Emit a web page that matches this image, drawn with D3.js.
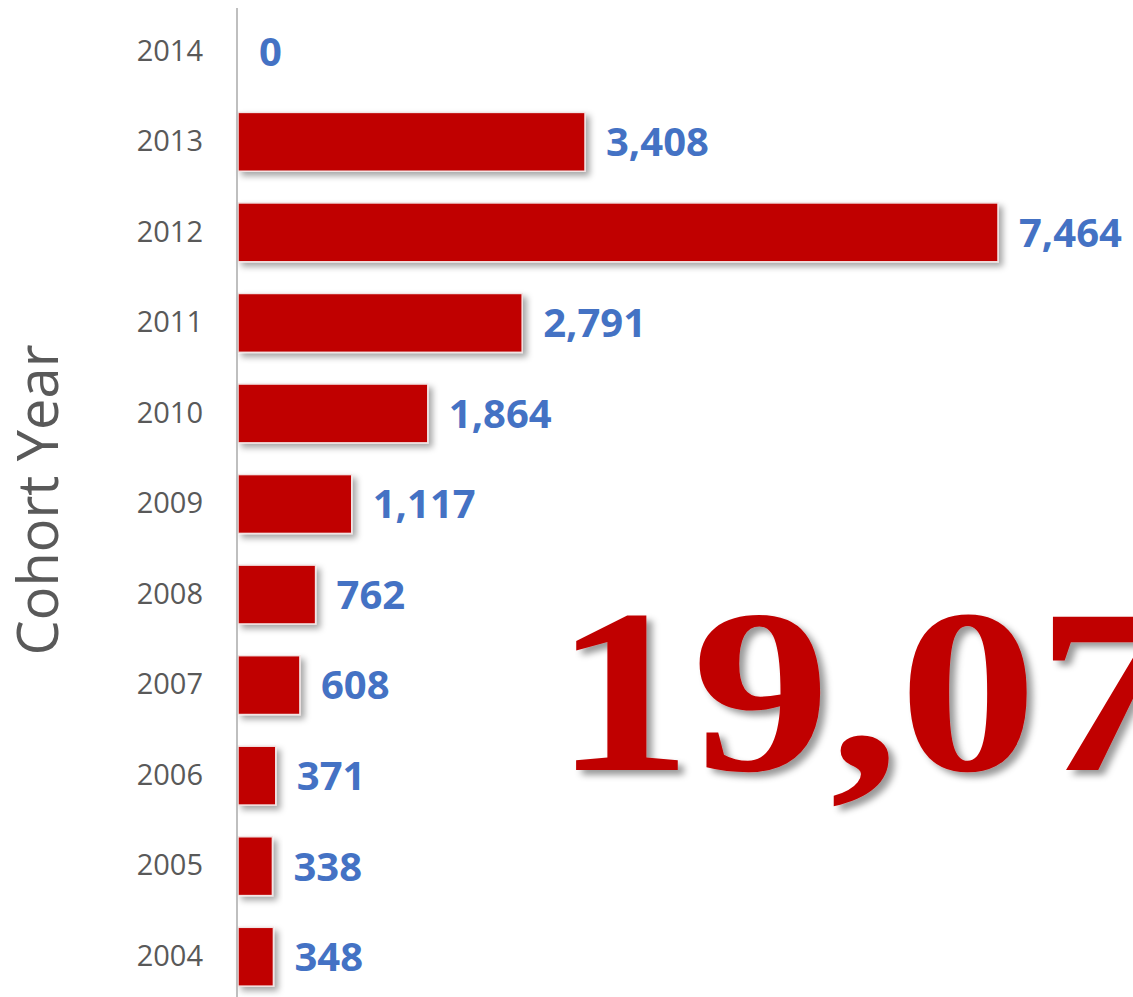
<!DOCTYPE html>
<html>
<head>
<meta charset="utf-8">
<script src="https://cdn.jsdelivr.net/npm/d3@7"></script>
<style>
  body { margin: 0; background: #fff; }
  svg { display: block; }
</style>
</head>
<body>
<div id="chart"></div>
<script>
// data, top to bottom
const years = ['2014', '2013', '2012', '2011', '2010', '2009', '2008', '2007', '2006', '2005', '2004']
const counts = [0, 3408, 7464, 2791, 1864, 1117, 762, 608, 371, 338, 348]
const axisTitle = 'Cohort Year'

const W = 1133, H = 997
const rows = years.map((y, i) => ({ year: y, value: counts[i] }))
const fmt = d3.format(',')

const svg = d3.select('#chart')
    .append('svg')
        .attr('width', W)
        .attr('height', H)

const defs = svg.append('defs')
defs.append('filter')
        .attr('id', 'barShadow')
        .attr('x', '-20%').attr('y', '-30%')
        .attr('width', '150%').attr('height', '180%')
    .append('feDropShadow')
        .attr('dx', 4).attr('dy', 4)
        .attr('stdDeviation', 3)
        .attr('flood-color', '#000')
        .attr('flood-opacity', 0.35)
defs.append('filter')
        .attr('id', 'textShadow')
        .attr('x', '-10%').attr('y', '-10%')
        .attr('width', '130%').attr('height', '130%')
    .append('feDropShadow')
        .attr('dx', 5).attr('dy', 5)
        .attr('stdDeviation', 3)
        .attr('flood-color', '#000')
        .attr('flood-opacity', 0.4)

const x = d3.scaleLinear()
    .domain([0, 7464])
    .range([238, 998])

const y = d3.scaleBand()
    .domain(years)
    .range([6, 1002])
    .paddingInner(0.35)
    .paddingOuter(0.175)

// big total, sits behind the bars (runs off the right edge like the original)
const total = d3.sum(counts)
svg.append('text')
    .attr('transform', 'translate(554,770) scale(1.18,1)')
    .attr('fill', '#C00000')
    .attr('font-family', '"Liberation Serif", "DejaVu Serif", serif')
    .attr('font-weight', 700)
    .attr('font-size', 234)
    .attr('filter', 'url(#textShadow)')
    .text(fmt(total))

// bars
svg.append('g')
    .selectAll('rect')
    .data(rows.filter(d => d.value > 0))
    .enter()
    .append('rect')
        .attr('x', x(0))
        .attr('y', d => y(d.year))
        .attr('width', d => x(d.value) - x(0))
        .attr('height', y.bandwidth())
        .attr('fill', '#C00000')
        .attr('stroke', '#f2e4e4')
        .attr('stroke-width', 1.5)
        .attr('filter', 'url(#barShadow)')

// value labels
svg.append('g')
    .selectAll('text')
    .data(rows)
    .enter()
    .append('text')
        .attr('x', d => x(d.value) + 21)
        .attr('y', d => y(d.year) + y.bandwidth() / 2)
        .attr('dy', '0.36em')
        .attr('fill', '#4472C4')
        .attr('font-family', '"Open Sans", sans-serif')
        .attr('font-weight', 700)
        .attr('font-size', 40)
        .text(d => fmt(d.value))

// y axis
const yAxis = svg.append('g')
    .attr('transform', `translate(${x(0) - 1},0)`)
    .call(d3.axisLeft(y).tickSize(0).tickPadding(34))

yAxis.select('.domain')
    .attr('d', `M0,8V${H}`)
    .attr('stroke', '#bfbfbf')
    .attr('stroke-width', 2)
yAxis.selectAll('.tick text')
    .attr('fill', '#595959')
    .attr('font-family', '"Open Sans", sans-serif')
    .attr('font-size', 29)

// axis title
svg.append('text')
    .attr('transform', 'translate(58,500) rotate(-90)')
    .attr('text-anchor', 'middle')
    .attr('fill', '#595959')
    .attr('font-family', '"Open Sans", sans-serif')
    .attr('font-size', 56)
    .text(axisTitle)
</script>
</body>
</html>
